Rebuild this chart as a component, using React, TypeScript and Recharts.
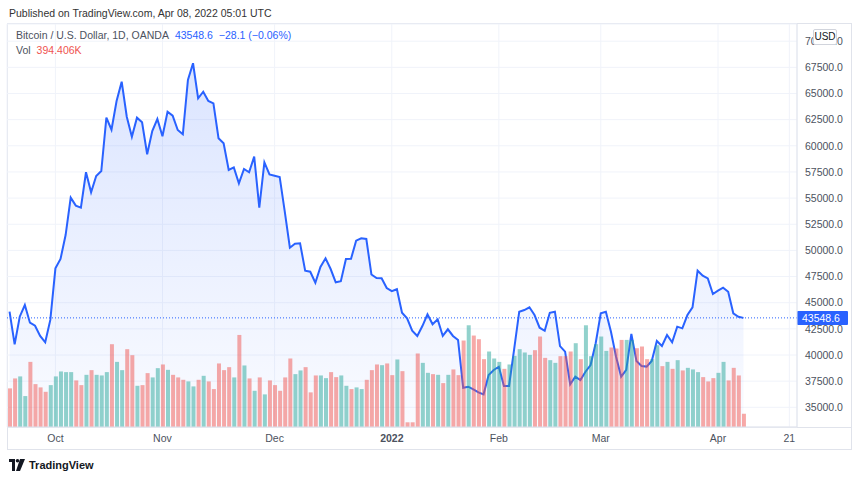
import { ComposedChart, Area, Bar, Cell, XAxis, YAxis, CartesianGrid, ReferenceLine } from "recharts";

// daily closes, Sep 20 2021 -> Apr 8 2022 (OANDA BTCUSD, weekdays)
const closes = [
  44140, 41020, 43660, 44780, 43090, 42800, 41820, 41210, 43350, 48290,
  49180, 51470, 55040, 54280, 54090, 57470, 55550, 57110, 57590, 62690,
  61540, 64280, 66130, 62780, 60870, 62690, 62250, 59190, 61410, 62560,
  60910, 63260, 62880, 61510, 61100, 66290, 67890, 64540, 65170, 64280,
  64060, 60720, 60240, 57690, 57940, 56410, 57780, 57470, 58960, 54080,
  58420, 57270, 57140, 57020, 53700, 50260, 50640, 50680, 48060, 47960,
  46910, 48410, 49240, 48220, 46950, 47050, 49180, 49200, 50930, 51160,
  51090, 47700, 47350, 47330, 46400, 46100, 46290, 44040, 43510, 42320,
  41820, 42770, 43890, 42940, 43410, 41820, 42460, 41820, 41430, 36870,
  36970, 36720, 36430, 36240, 38090, 38570, 38880, 37040, 37040, 40540,
  44140, 44300, 44560, 43820, 42610, 42320, 44040, 44140, 40850, 40320,
  37200, 37930, 37610, 38400, 39040, 41120, 43990, 44140, 42230, 39840,
  37930, 38570, 42010, 39430, 38950, 38890, 39430, 41340, 40860, 41910,
  41210, 42710, 42550, 43820, 44560, 48060, 47580, 47330, 45830, 46150,
  46430, 46050, 43990, 43660, 43548.6,
];

// volume, thousands
const volumes = [
  1150, 1446, 1506, 921, 1939, 1277, 1179, 1048, 1247, 1506,
  1654, 1634, 1634, 1387, 1247, 1553, 1693, 1553, 1535, 1634,
  2465, 1939, 1693, 2317, 2138, 1227, 1247, 1604, 1476, 1752,
  1862, 1702, 1553, 1476, 1405, 1357, 1209, 1405, 1524, 1357,
  1129, 1892, 1693, 1782, 1476, 2741, 1832, 1446, 1078, 1476,
  971, 1387, 1247, 1078, 1476, 2040, 1574, 1684, 1782, 1031,
  1535, 1535, 1455, 1634, 1485, 1535, 1227, 1129, 1179, 1129,
  1405, 1693, 1862, 1841, 1892, 1544, 2011, 1663, 140, 140,
  2189, 1910, 1613, 1574, 1553, 1307, 1553, 1714, 1544, 2575,
  3029, 2723, 2614, 2020, 2248, 2040, 1939, 1732, 1862, 2118,
  2317, 2219, 2147, 2287, 2694, 2058, 1990, 1910, 2109, 2109,
  2248, 2495, 2020, 3029, 2109, 2465, 2694, 2266, 2367, 2337,
  2593, 2593, 2593, 2346, 2397, 2020, 2020, 2435, 1812, 1939,
  1732, 1990, 1684, 1761, 1714, 1634, 1485, 1357, 1455, 1613,
  1939, 1387, 1761, 1535, 394.406,
];

// u = up day (green volume), d = down day (red volume)
const sides = (
  "dduudddduu uuudduduuu duuddudduu duddduudud ddddududud " +
  "uddddduudd duudduuduu dddudduddd duudududdd uddduuuduu " +
  "uuuddduudd duduuuuudd duuddduudu duduuudddu udddd"
).replace(/ /g, "");

const tickIndex = [9, 30, 52, 75, 96, 116, 139, 153];
const tickText = ["Oct", "Nov", "Dec", "2022", "Feb", "Mar", "Apr", "21"];
const priceTicks = [35000, 37500, 40000, 42500, 45000, 47500, 50000, 52500, 55000, 57500, 60000, 62500, 65000, 67500, 70000];
const lastPrice = 43548.6;
const emptySlots = 10;

const rows = [];
for (let i = 0; i < closes.length + emptySlots; i++) {
  rows.push({ i, close: i < closes.length ? closes[i] : null, vol: i < volumes.length ? volumes[i] : null });
}

const font = "'Liberation Sans', Arial, sans-serif";
const BLUE = "#2962ff";

function TimeTick(props: any) {
  const { x, y, payload } = props;
  const t = tickText[tickIndex.indexOf(payload.value)] ?? "";
  return (
    <text x={x} y={y + 7} textAnchor="middle" fontSize={10.5} fontFamily={font} fill="#4c525e" fontWeight={t === "2022" ? 700 : 400}>
      {t}
    </text>
  );
}

function PriceTag(props: any) {
  const { x, y, width } = props.viewBox;
  return (
    <g>
      <rect x={x + width} y={y - 7} width={51} height={14} fill={BLUE} rx={1} />
      <text x={x + width + 5} y={y + 4} fill="#fff" fontSize={10.5} fontFamily={font}>
        {lastPrice.toFixed(1)}
      </text>
    </g>
  );
}

export default function App() {
  return (
    <div style={{ position: "absolute", left: 0, top: 0, width: 860, height: 481, background: "#fff", fontFamily: font, overflow: "hidden" }}>
      <div style={{ position: "absolute", left: 9, top: 7, fontSize: 10.5, color: "#333", lineHeight: "12px" }}>
        Published on TradingView.com, Apr 08, 2022 05:01 UTC
      </div>
      <div style={{ position: "absolute", left: 7, top: 23, width: 845, height: 427, border: "1px solid #e0e3eb", boxSizing: "border-box" }} />
      <div style={{ position: "absolute", left: 7, top: 427, width: 845, height: 1, background: "#e0e3eb" }} />

      <ComposedChart width={860} height={481} data={rows} margin={{ top: 24, right: 10, bottom: 31, left: 7 }} barGap={0}>
        <defs>
          <linearGradient id="fillGrad" x1="0" y1="0" x2="0" y2="1">
            <stop offset="0%" stopColor={BLUE} stopOpacity={0.28} />
            <stop offset="100%" stopColor={BLUE} stopOpacity={0.04} />
          </linearGradient>
        </defs>
        <CartesianGrid stroke="#f0f3fa" strokeWidth={1} />
        <XAxis
          dataKey="i"
          type="category"
          ticks={tickIndex}
          interval={0}
          tick={<TimeTick />}
          tickLine={false}
          axisLine={{ stroke: "#e0e3eb" }}
          height={23}
        />
        <YAxis
          orientation="right"
          domain={[33117, 71644]}
          ticks={priceTicks}
          allowDataOverflow
          width={53}
          tickLine={false}
          axisLine={{ stroke: "#e0e3eb" }}
          tickFormatter={(v: number) => v.toFixed(1)}
          tick={{ fontSize: 10.5, fill: "#4c525e", fontFamily: font }}
          tickMargin={2}
        />
        <YAxis yAxisId="v" hide domain={[0, 12000]} />
        <Bar dataKey="vol" yAxisId="v" barSize={4} isAnimationActive={false}>
          {rows.map((r, k) => (
            <Cell key={k} fill={sides[k] === "u" ? "rgba(38,166,154,0.5)" : "rgba(239,83,80,0.5)"} />
          ))}
        </Bar>
        <Area
          type="linear"
          dataKey="close"
          stroke={BLUE}
          strokeWidth={2}
          fill="url(#fillGrad)"
          dot={false}
          activeDot={false}
          isAnimationActive={false}
        />
        <ReferenceLine y={lastPrice} stroke={BLUE} strokeDasharray="1 2" label={{ content: (p: any) => <PriceTag {...p} /> }} />
      </ComposedChart>

      <div style={{ position: "absolute", left: 16, top: 29, fontSize: 10.5, lineHeight: "12px", color: "#4c525e", whiteSpace: "nowrap" }}>
        Bitcoin / U.S. Dollar, 1D, OANDA
        <span style={{ color: BLUE, marginLeft: 6 }}>43548.6</span>
        <span style={{ color: BLUE, marginLeft: 6 }}>−28.1 (−0.06%)</span>
      </div>
      <div style={{ position: "absolute", left: 16, top: 44, fontSize: 10.5, lineHeight: "12px", color: "#4c525e", whiteSpace: "nowrap" }}>
        Vol<span style={{ color: "#ef5350", marginLeft: 6 }}>394.406K</span>
      </div>
      <div style={{ position: "absolute", left: 813, top: 29, width: 22, height: 14, border: "1px solid #d1d4dc", borderRadius: 2, background: "#fff", fontSize: 10, lineHeight: "14px", textAlign: "center", color: "#131722" }}>
        USD
      </div>

      <div style={{ position: "absolute", left: 9, top: 459, display: "flex", alignItems: "center", gap: 4 }}>
        <svg width={16} height={12} viewBox="0 0 16 12">
          <path d="M0 0 H6 V12 H3 V3 H0 Z" fill="#131722" />
          <circle cx={8.5} cy={1.8} r={1.8} fill="#131722" />
          <path d="M11 0 H16 L11 12 H7 Z" fill="#131722" />
        </svg>
        <span style={{ fontSize: 11, color: "#131722", fontWeight: 600 }}>TradingView</span>
      </div>
    </div>
  );
}
